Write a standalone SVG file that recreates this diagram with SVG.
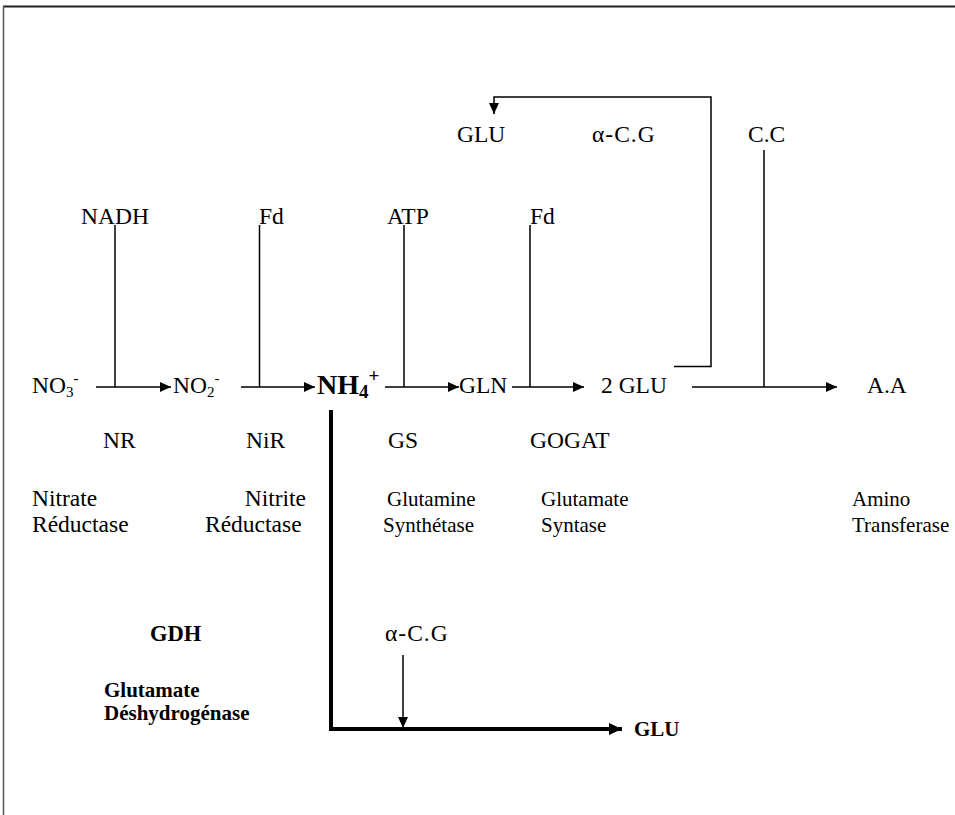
<svg xmlns="http://www.w3.org/2000/svg" width="955" height="815" viewBox="0 0 955 815">
<style>
text{font-family:"Liberation Serif","Times New Roman",serif;font-size:23.5px;fill:#000}
.r{font-size:21px}
.b{font-weight:bold;font-size:21px}
.g{font-weight:bold;font-size:22.5px}
.big{font-size:28px;font-weight:bold}
.sub{font-size:15px}
.acg{letter-spacing:1px}
.ln{stroke:#000;stroke-width:1.5;fill:none}
.thick{stroke:#000;stroke-width:4;fill:none}
</style>
<defs>
<marker id="ah" markerUnits="userSpaceOnUse" markerWidth="12" markerHeight="10" refX="11" refY="5" orient="auto">
<path d="M0,0 L11,5 L0,10 Z" fill="#000"/>
</marker>
<marker id="ahb" markerUnits="userSpaceOnUse" markerWidth="14" markerHeight="12" refX="13" refY="6" orient="auto">
<path d="M0,0 L13,6 L0,12 Z" fill="#000"/>
</marker>
</defs>
<g id="frame">
<line x1="3" y1="6.5" x2="955" y2="6.5" stroke="#222" stroke-width="2"/>
<line x1="3.5" y1="6" x2="3.5" y2="815" stroke="#555" stroke-width="1.5"/>
</g>
<g id="connectors">
<line class="ln" x1="96" y1="387" x2="171" y2="387" marker-end="url(#ah)"/>
<line class="ln" x1="115" y1="225" x2="115" y2="387"/>
<line class="ln" x1="241" y1="387" x2="315" y2="387" marker-end="url(#ah)"/>
<line class="ln" x1="259.5" y1="225" x2="259.5" y2="387"/>
<line class="ln" x1="385" y1="387" x2="459" y2="387" marker-end="url(#ah)"/>
<line class="ln" x1="404" y1="225" x2="404" y2="387"/>
<line class="ln" x1="512" y1="387" x2="584" y2="387" marker-end="url(#ah)"/>
<line class="ln" x1="530" y1="225" x2="530" y2="387"/>
<line class="ln" x1="692" y1="387" x2="837" y2="387" marker-end="url(#ah)"/>
<line class="ln" x1="764" y1="150" x2="764" y2="387"/>
<path class="ln" d="M674,366.5 H711 V97 H494 V114" marker-end="url(#ah)"/>
<path class="thick" d="M331,410 V729 H622" marker-end="url(#ahb)"/>
<line class="ln" x1="403" y1="655" x2="403" y2="728" marker-end="url(#ah)"/>
</g>
<g id="top-labels">
<text x="457" y="142">GLU</text>
<text class="acg" x="592" y="142">α-C.G</text>
<text x="748" y="142">C.C</text>
</g>
<g id="cofactors">
<text x="81" y="224">NADH</text>
<text x="259" y="224">Fd</text>
<text x="387" y="224">ATP</text>
<text x="530" y="224">Fd</text>
</g>
<g id="node-no3"><text x="32" y="393">NO<tspan class="sub" dy="4">3</tspan><tspan class="sub" dy="-14">-</tspan></text></g>
<g id="node-no2"><text x="173" y="393">NO<tspan class="sub" dy="4">2</tspan><tspan class="sub" dy="-14">-</tspan></text></g>
<g id="node-nh4"><text class="big" x="317" y="394">NH<tspan font-size="19" dy="4">4</tspan><tspan font-size="19" dy="-16">+</tspan></text></g>
<g id="node-gln"><text x="459" y="393">GLN</text></g>
<g id="node-2glu"><text x="601" y="393">2 GLU</text></g>
<g id="node-aa"><text x="867" y="393">A.A</text></g>
<g id="enzymes">
<text x="103" y="448">NR</text>
<text x="246" y="448">NiR</text>
<text x="388" y="448">GS</text>
<text x="530" y="448">GOGAT</text>
<text x="32" y="506">Nitrate</text>
<text x="32" y="532">Réductase</text>
<text x="306" y="506" text-anchor="end">Nitrite</text>
<text x="205" y="532">Réductase</text>
<text class="r" x="387" y="506">Glutamine</text>
<text class="r" x="383" y="532">Synthétase</text>
<text class="r" x="541" y="506">Glutamate</text>
<text class="r" x="541" y="532">Syntase</text>
<text class="r" x="852" y="506">Amino</text>
<text class="r" x="852" y="532">Transferase</text>
</g>
<g id="gdh">
<text class="g" x="150" y="641">GDH</text>
<text class="b" x="104" y="697">Glutamate</text>
<text class="b" x="104" y="720">Déshydrogénase</text>
</g>
<g id="node-acg-bottom"><text class="acg" x="385" y="641">α-C.G</text></g>
<g id="node-glu-bottom"><text class="b" x="634" y="736">GLU</text></g>
</svg>
